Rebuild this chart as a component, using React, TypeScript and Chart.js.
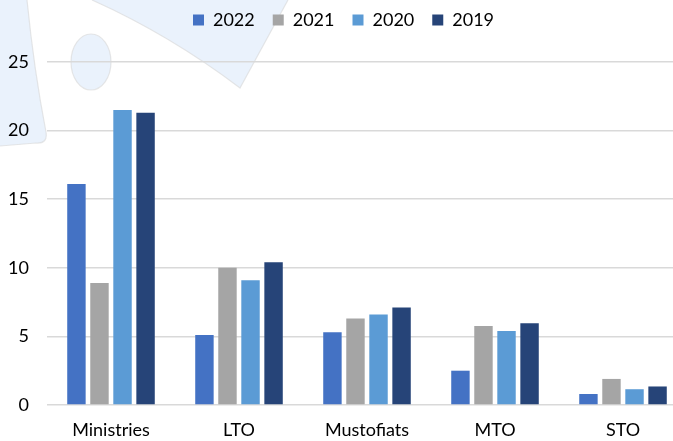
import React, { useEffect, useRef } from "react";
import { Chart, registerables } from "chart.js";

Chart.register(...registerables);

const categories = ["Ministries", "LTO", "Mustofiats", "MTO", "STO"];
const seriesLabels = ["2022", "2021", "2020", "2019"];
const values2022 = [16.1, 5.1, 5.3, 2.5, 0.8];
const values2021 = [8.9, 10.0, 6.3, 5.75, 1.9];
const values2020 = [21.5, 9.1, 6.6, 5.4, 1.15];
const values2019 = [21.3, 10.4, 7.1, 5.95, 1.35];
const colors = ["#4472C4", "#A5A5A5", "#5B9BD5", "#264478"];
const yTicks = [0, 5, 10, 15, 20, 25];

const FONT = "Lato, 'Open Sans', sans-serif";

const watermark = {
  id: "watermark",
  beforeInit(chart: any) {
    const legend = chart.legend;
    if (legend) {
      const orig = legend.fit;
      legend.fit = function () {
        orig.call(this);
        this.height += 23;
      };
    }
  },
  beforeDraw(chart: any) {
    const ctx = chart.ctx;
    ctx.save();
    ctx.fillStyle = "#EAF2FC";
    ctx.strokeStyle = "rgba(215,215,215,0.6)";
    ctx.lineWidth = 1.2;
    // left strip
    ctx.beginPath();
    ctx.moveTo(0, 0);
    ctx.lineTo(27, 0);
    ctx.quadraticCurveTo(34, 70, 46, 132);
    ctx.quadraticCurveTo(48, 144, 36, 143);
    ctx.lineTo(0, 146);
    ctx.closePath();
    ctx.fill();
    ctx.beginPath();
    ctx.moveTo(27, 0);
    ctx.quadraticCurveTo(34, 70, 46, 132);
    ctx.quadraticCurveTo(48, 144, 36, 143);
    ctx.lineTo(0, 146);
    ctx.stroke();
    // upper triangle
    ctx.beginPath();
    ctx.moveTo(92, 0);
    ctx.quadraticCurveTo(170, 35, 240, 88);
    ctx.lineTo(288, 0);
    ctx.closePath();
    ctx.fill();
    ctx.beginPath();
    ctx.moveTo(92, 0);
    ctx.quadraticCurveTo(170, 35, 240, 88);
    ctx.lineTo(288, 0);
    ctx.stroke();
    // ellipse
    ctx.beginPath();
    ctx.ellipse(91, 62, 20, 28, 0, 0, Math.PI * 2);
    ctx.fill();
    ctx.stroke();
    ctx.restore();
  },
};

export default function App() {
  const ref = useRef<HTMLCanvasElement>(null);
  useEffect(() => {
    if (!ref.current) return;
    const series = [values2022, values2021, values2020, values2019];
    const chart = new Chart(ref.current, {
      type: "bar",
      data: {
        labels: categories,
        datasets: seriesLabels.map((l, i) => ({
          label: l,
          data: series[i],
          backgroundColor: colors[i],
          borderWidth: 0,
          categoryPercentage: 0.72,
          barPercentage: 0.8,
        })),
      },
      options: {
        animation: false,
        responsive: false,
        maintainAspectRatio: false,
        layout: { padding: { top: -7, right: 3, left: 0, bottom: 0 } },
        plugins: {
          legend: {
            position: "top",
            align: "center",
            labels: {
              boxWidth: 11,
              boxHeight: 11,
              padding: 18,
              color: "#000",
              font: { family: FONT, size: 18 },
            },
          },
          tooltip: { enabled: false },
        },
        scales: {
          x: {
            grid: { display: false, drawTicks: false },
            border: { display: false },
            afterFit: (s: any) => {
              s.height = 36;
            },
            ticks: {
              color: "#000",
              padding: 14,
              font: { family: FONT, size: 18 },
            },
          },
          y: {
            min: 0,
            max: 25,
            afterBuildTicks: (s: any) => {
              s.ticks = yTicks.map((v) => ({ value: v }));
            },
            afterFit: (s: any) => {
              s.width = 47;
            },
            grid: { color: "#D9D9D9", lineWidth: 1.5, drawTicks: false },
            border: { display: false },
            ticks: {
              color: "#000",
              padding: 18,
              font: { family: FONT, size: 18 },
            },
          },
        },
      },
      plugins: [watermark],
    });
    return () => chart.destroy();
  }, []);
  return (
    <div
      style={{
        position: "fixed",
        left: 0,
        top: 0,
        width: 673,
        height: 441,
        overflow: "hidden",
        background: "#fff",
      }}
    >
      <canvas ref={ref} width={690} height={441} style={{ display: "block" }} />
    </div>
  );
}
